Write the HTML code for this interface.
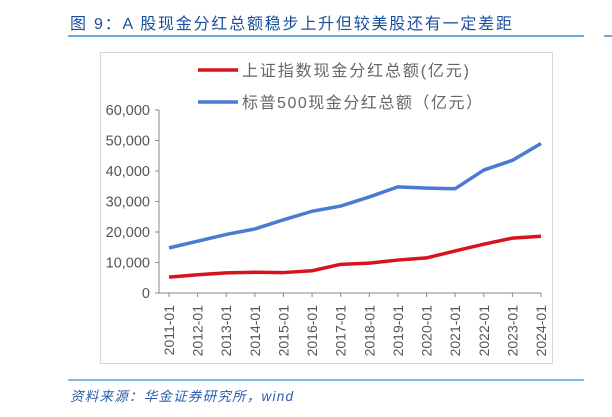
<!DOCTYPE html>
<html><head><meta charset="utf-8"><style>
body{margin:0;width:612px;height:417px;background:#fff;overflow:hidden;font-family:"Liberation Sans","Noto Sans CJK SC",sans-serif;}
</style></head><body>
<svg width="612" height="417" viewBox="0 0 612 417" style="position:absolute;left:0;top:0">
<text x="70" y="29" font-size="16" fill="#1a4f9c" textLength="442" lengthAdjust="spacing" font-family="Liberation Sans, Noto Sans CJK SC, sans-serif">图 9：A 股现金分红总额稳步上升但较美股还有一定差距</text>
<line x1="68" y1="36" x2="584" y2="36" stroke="#3a8fd6" stroke-width="1.5"/>
<line x1="604" y1="36" x2="612" y2="36" stroke="#3a8fd6" stroke-width="1.5"/>
<rect x="100.5" y="52.5" width="452" height="311" fill="none" stroke="#d6d6d6"/>
<g id="legend">
<line x1="198" y1="70" x2="238" y2="70" stroke="#d7141e" stroke-width="3.5"/>
<text x="242" y="76" font-size="16" fill="#666" textLength="227" lengthAdjust="spacing">上证指数现金分红总额(亿元)</text>
<line x1="198" y1="102" x2="238" y2="102" stroke="#4a7bd0" stroke-width="3.5"/>
<text x="242" y="108" font-size="16" fill="#666" textLength="240" lengthAdjust="spacing">标普500现金分红总额（亿元）</text>
</g>
<g id="axes"></g>
<g id="series"></g>
<line x1="68" y1="380" x2="584" y2="380" stroke="#3a8fd6" stroke-width="1.2"/>
<text x="70" y="401" font-size="13.5" font-style="italic" fill="#2a5caa" textLength="223" lengthAdjust="spacing">资料来源：华金证券研究所，wind</text>
</svg>
<script>
const categories=["2011-01","2012-01","2013-01","2014-01","2015-01","2016-01","2017-01","2018-01","2019-01","2020-01","2021-01","2022-01","2023-01","2024-01"];
const sp500Values=[14800,17000,19200,21000,24000,26800,28500,31500,34800,34400,34200,40300,43500,49000];
const sseValues=[5200,6000,6600,6800,6700,7300,9400,9800,10800,11500,13800,16000,18000,18600];
const yTicks=[0,10000,20000,30000,40000,50000,60000];
const NS="http://www.w3.org/2000/svg";
const x0=169,x1=541,yBase=293,yTop=110,yMax=60000;
const xs=i=>x0+(x1-x0)*i/(categories.length-1);
const ys=v=>yBase-(yBase-yTop)*v/yMax;
function mk(t,a,p){const e=document.createElementNS(NS,t);for(const k in a)e.setAttribute(k,a[k]);p.appendChild(e);return e;}
const ax=document.getElementById('axes');
const yl=mk('line',{x1:x0-10,y1:ys(0),x2:x0-10,y2:ys(yMax),stroke:'#888'},ax);


yTicks.forEach(v=>{
 const tk=mk('line',{x1:x0-14,y1:ys(v),x2:x0-10,y2:ys(v),stroke:'#888'},ax);
 
 
 const t=mk('text',{x:x0-19,y:ys(v)+5,'text-anchor':'end','font-size':'14.5',fill:'#555'},ax);
 t.textContent=v.toLocaleString('en-US');
 
 
});
const xl=mk('line',{x1:x0-10,y1:yBase,x2:x1,y2:yBase,stroke:'#888'},ax);


categories.forEach((c,i)=>{
 const tk=mk('line',{x1:xs(i),y1:yBase,x2:xs(i),y2:yBase+4,stroke:'#888'},ax);
 
 
 const t=mk('text',{x:0,y:0,'text-anchor':'end','font-size':'14',fill:'#555',transform:`translate(${xs(i)+5},305) rotate(-90)`},ax);
 t.textContent=c;
 
 
});
const sg=document.getElementById('series');
function line(vals,color,name){
 const p=mk('polyline',{points:vals.map((v,i)=>xs(i)+','+ys(v)).join(' '),fill:'none',stroke:color,'stroke-width':'3.5','stroke-linejoin':'round'},sg);
 
 
}
line(sp500Values,'#4a7bd0','sp500-line');
line(sseValues,'#d7141e','sse-line');
</script>
</body></html>
